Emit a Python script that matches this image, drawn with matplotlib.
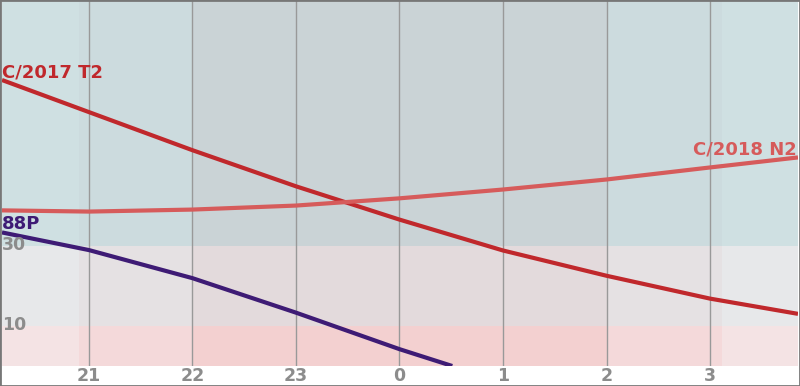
import numpy as np
import matplotlib
matplotlib.use("Agg")
import matplotlib.pyplot as plt
from matplotlib.patches import Rectangle

# hours after midnight written as 24+h so the axis is continuous
hours = [20.16, 21, 22, 23, 24, 25, 26, 27, 27.85]
hour_ticks = [21, 22, 23, 24, 25, 26, 27]
hour_labels = ['21', '22', '23', '0', '1', '2', '3']

# altitude (deg) of each object
t2_alt = [71.3, 63.3, 53.8, 44.8, 36.5, 28.8, 22.5, 16.8, 13.0]
n2_alt = [38.8, 38.5, 39.0, 40.0, 41.8, 44.0, 46.5, 49.5, 52.0]
p88_hours = [20.16, 21, 22, 23, 24, 24.51]
p88_alt = [33.3, 28.9, 21.9, 13.3, 4.2, 0.0]

# twilight edges (hours) and altitude bands
sky_x = [20.16, 20.9, 22, 26, 27.12, 27.85]
sky_level = [0, 1, 2, 1, 0]
alt_edges = [0, 10, 30, 91]
alt_ticks = [10, 30]

band_colors = [
    ['#f4e3e4', '#f4d9da', '#f3d0d0'],   # below 10
    ['#e7e8ea', '#e5e1e3', '#e3dadc'],   # 10-30
    ['#cfe0e2', '#ccdbde', '#cad3d6'],   # above 30
]

fig = plt.figure(figsize=(8, 3.86), dpi=100)
ax = fig.add_axes([2/800, 20/386, 796/800, 365/386])

for j in range(len(alt_edges) - 1):
    for i in range(len(sky_x) - 1):
        ax.add_patch(Rectangle((sky_x[i], alt_edges[j]), sky_x[i+1] - sky_x[i],
                               alt_edges[j+1] - alt_edges[j],
                               color=band_colors[j][sky_level[i]], lw=0, zorder=0))

for h in hour_ticks:
    ax.axvline(h, color='#999999', lw=1, zorder=1)

c_t2 = '#c0282c'
c_n2 = '#d65b5b'
c_88 = '#3e1b75'
for xs, ys, c in [(hours, t2_alt, c_t2), (hours, n2_alt, c_n2), (p88_hours, p88_alt, c_88)]:
    ax.plot(xs, ys, color=c, lw=3, zorder=3, solid_capstyle='butt', solid_joinstyle='round')

ax.annotate('C/2017 T2', (hours[0], t2_alt[0]), xytext=(0, -1), textcoords='offset points',
            ha='left', va='bottom', color=c_t2, fontsize=13, fontweight='bold', zorder=4)
ax.annotate('C/2018 N2', (hours[-1], n2_alt[-1]), xytext=(-1, -0.5), textcoords='offset points',
            ha='right', va='bottom', color=c_n2, fontsize=13, fontweight='bold', zorder=4)
ax.annotate('88P', (p88_hours[0], p88_alt[0]), xytext=(0, -0.5), textcoords='offset points',
            ha='left', va='bottom', color=c_88, fontsize=13, fontweight='bold', zorder=4)

for a in alt_ticks:
    ax.annotate(str(a), (hours[0], a), xytext=(0, 0.5), textcoords='offset points',
                ha='left', va='center', color='#8c8c8c', fontsize=12.5, fontweight='bold', zorder=4)

ax.set_xlim(sky_x[0], sky_x[-1])
ax.set_ylim(0, 91)
ax.set_xticks(hour_ticks)
ax.set_xticklabels(hour_labels, color='#8c8c8c', fontsize=12.5, fontweight='bold')
ax.set_yticks([])
ax.tick_params(axis='x', length=0, pad=1)
for s in ax.spines.values():
    s.set_visible(False)

fig.patches.append(Rectangle((0, 0), 1, 1, transform=fig.transFigure, fill=False,
                             edgecolor='#777777', lw=2))

plt.savefig('out.png', dpi=100)
